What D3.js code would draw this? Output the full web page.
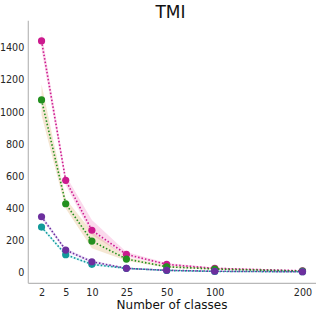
<!DOCTYPE html>
<html>
<head>
<meta charset="utf-8">
<script src="https://cdn.jsdelivr.net/npm/d3@7"></script>
<style>
  body { margin: 0; background: #fff; }
  svg { display: block; font-family: "DejaVu Sans", sans-serif; }
</style>
</head>
<body>
<svg id="chart"></svg>
<script>
// number of classes on the x axis
const classes = [2, 5, 10, 25, 50, 100, 200];
const yTicks = [0, 200, 400, 600, 800, 1000, 1200, 1400];

// four series: mean and band (low / high)
const magentaMean = [1442, 575, 264, 114, 52, 27, 12];
const magentaLo = [1390, 545, 235, 100, 44, 22, 9];
const magentaHi = [1497, 605, 328, 128, 60, 32, 15];

const greenMean = [1075, 429, 197, 85, 37, 23, 10];
const greenLo = [980, 400, 152, 74, 31, 19, 8];
const greenHi = [1172, 460, 255, 96, 44, 27, 12];

const tealMean = [284, 112, 52, 27, 14, 8, 6];
const tealLo = [274, 104, 45, 22, 11, 6, 4];
const tealHi = [294, 120, 59, 32, 17, 10, 8];

const purpleMean = [348, 141, 68, 27, 15, 9, 6];
const purpleLo = [335, 130, 60, 22, 12, 7, 4];
const purpleHi = [362, 152, 77, 32, 18, 11, 8];

const series = [
  { mean: magentaMean, lo: magentaLo, hi: magentaHi, color: "#cc1a8e", band: "#f06cb8" },
  { mean: greenMean, lo: greenLo, hi: greenHi, color: "#23901f", band: "#d9a050" },
  { mean: tealMean, lo: tealLo, hi: tealHi, color: "#129a9a", band: "#50d0e0" },
  { mean: purpleMean, lo: purpleLo, hi: purpleHi, color: "#6c2f9e", band: "#b080e0" }
];

const width = 316, height = 314;
const mLeft = 28.3, mTop = 20.7, mBottom = 283.3, mRight = 316;

const svg = d3.select("#chart")
  .attr("width", width)
  .attr("height", height);

// uneven spacing of the class counts along the axis
const xFrac = [0.046, 0.13, 0.221, 0.341, 0.481, 0.648, 0.953];
const x = d3.scaleLinear()
  .domain(classes)
  .range(xFrac.map(f => mLeft + f * (mRight - mLeft)));

const y = d3.scaleLinear()
  .domain([-66, 1568])
  .range([mBottom, mTop]);

// spines
svg.append("line")
  .attr("x1", mLeft).attr("x2", mLeft)
  .attr("y1", mTop).attr("y2", mBottom)
  .attr("stroke", "#b8b8b8").attr("stroke-width", 1.2);
svg.append("line")
  .attr("x1", mLeft).attr("x2", mRight)
  .attr("y1", mBottom).attr("y2", mBottom)
  .attr("stroke", "#b8b8b8").attr("stroke-width", 1.2);

// axes, labels only
const yAxis = svg.append("g")
  .attr("transform", `translate(${mLeft},0)`)
  .call(d3.axisLeft(y).tickValues(yTicks).tickFormat(d3.format("d")).tickSize(0).tickPadding(4));
const xAxis = svg.append("g")
  .attr("transform", `translate(0,${mBottom})`)
  .call(d3.axisBottom(x).tickValues(classes).tickFormat(d3.format("d")).tickSize(0).tickPadding(6));
[yAxis, xAxis].forEach(g => {
  g.select(".domain").remove();
  g.selectAll("text")
    .attr("font-family", "DejaVu Sans")
    .attr("font-size", 9.6)
    .attr("fill", "#262626");
});

const area = d3.area()
  .x((d, i) => x(classes[i]))
  .y0(d => y(d[0]))
  .y1(d => y(d[1]));

const line = d3.line()
  .x((d, i) => x(classes[i]))
  .y(d => y(d));

series.forEach(s => {
  svg.append("path")
    .datum(s.lo.map((v, i) => [v, s.hi[i]]))
    .attr("d", area)
    .attr("fill", s.band)
    .attr("fill-opacity", 0.25);
});

series.forEach(s => {
  svg.append("path")
    .datum(s.mean)
    .attr("d", line)
    .attr("fill", "none")
    .attr("stroke", s.color)
    .attr("stroke-width", 1.6)
    .attr("stroke-dasharray", "1.5,2");
  svg.append("g")
    .selectAll("circle")
    .data(s.mean)
    .join("circle")
    .attr("cx", (d, i) => x(classes[i]))
    .attr("cy", d => y(d))
    .attr("r", 3.6)
    .attr("fill", s.color);
});

svg.append("text")
  .attr("x", 170.5)
  .attr("y", 17.5)
  .attr("text-anchor", "middle")
  .attr("font-size", 17)
  .attr("fill", "#111")
  .text("TMI");

svg.append("text")
  .attr("x", 172)
  .attr("y", 309)
  .attr("text-anchor", "middle")
  .attr("font-size", 12)
  .attr("fill", "#111")
  .text("Number of classes");
</script>
</body>
</html>
